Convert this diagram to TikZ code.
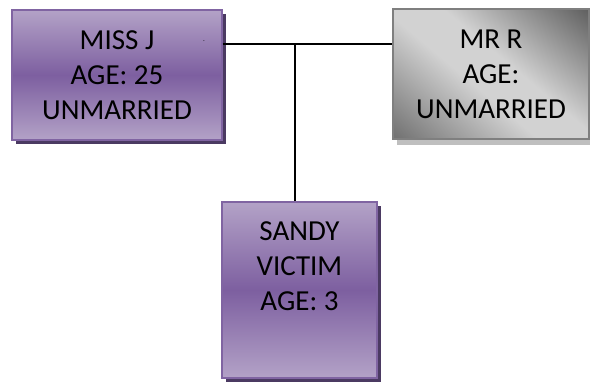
\documentclass[tikz,border=0pt]{standalone}
\usepackage{fontspec}
\setmainfont{Carlito}
\usepackage{tikz}
\usetikzlibrary{calc,shadows}
\definecolor{purplelight}{HTML}{B3A2C7}
\definecolor{purpledark}{HTML}{7D5FA0}
\definecolor{purpleedge}{HTML}{8064A2}
\definecolor{purpleshadow}{HTML}{4B3A62}
\definecolor{greydark}{HTML}{5C5C5C}
\definecolor{greylight}{HTML}{D2D2D2}
\definecolor{greymid}{HTML}{747474}
\definecolor{greyedge}{HTML}{7F7F7F}
\definecolor{greyshadow}{HTML}{BFBFBF}
\pgfdeclareverticalshading{greyshade}{100bp}{color(0bp)=(greymid); color(16bp)=(greymid);
	color(44bp)=(greylight); color(56bp)=(greylight); color(86bp)=(greydark); color(100bp)=(greydark)}

\begin{document}
\begin{tikzpicture}[x=1pt,y=-1pt,
	person/.style={draw, line width=1.2pt, align=center, inner sep=0pt,
		font=\fontsize{29}{35}\selectfont, text=black},
	purplebox/.style={person, draw=purpleedge, top color=purplelight,
		bottom color=purplelight, middle color=purpledark,
		drop shadow={shadow xshift=4pt, shadow yshift=-4pt, fill=purpleshadow, opacity=1}},
	greybox/.style={person, draw=greyedge, shading=greyshade, shading angle=-40,
		drop shadow={shadow xshift=4pt, shadow yshift=-6pt, fill=greyshadow, opacity=1}},
	link/.style={line width=1.2pt}]
		%%%%% START %%%%%
		\useasboundingbox (0, 0) rectangle (590, 381);
		
		\node[purplebox, minimum width=210, minimum height=130] (missj) at (117, 75)
			{MISS J\\AGE: 25\\UNMARRIED};
		\node[greybox, minimum width=196, minimum height=130] (mrr) at (491, 74)
			{MR R\\AGE:\\UNMARRIED};
		\node[purplebox, minimum width=155, minimum height=176] (sandy) at (299.5, 290)
			{SANDY\\VICTIM\\AGE: 3\\[12pt]\mbox{}};
		\node[font=\scriptsize, inner sep=0pt] (dot) at (204, 41) {.};
		
		\coordinate (join) at (295, 44);
		\draw[link] (missj.east |- join) -- (mrr.west |- join);
		\draw[link] (join) -- (join |- sandy.north);
		%%%%% END %%%%%
	\end{tikzpicture}
\end{document}
